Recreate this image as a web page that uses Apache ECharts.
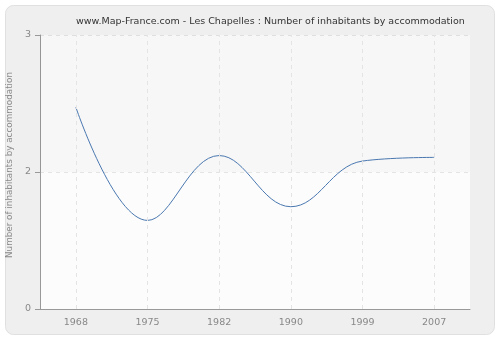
<!DOCTYPE html>
<html><head><meta charset="utf-8">
<script src="https://cdn.jsdelivr.net/npm/echarts@6/dist/echarts.min.js"></script>
<style>html,body{margin:0;padding:0;background:#fff}#c{width:500px;height:340px}</style>
</head><body><div id="c"></div>
<script>
var years = ['1968','1975','1982','1990','1999','2007'];
var values = [2.21, 0.97, 1.68, 1.12, 1.62, 1.66];
var yTicks = [0, 1.5, 3];
var title = 'www.Map-France.com - Les Chapelles : Number of inhabitants by accommodation';
var yName = 'Number of inhabitants by accommodation';
var FONT = 'DejaVu Sans, Verdana, sans-serif';

var chart = echarts.init(document.getElementById('c'), null, {renderer:'canvas'});
chart.setOption({
  animation:false,
  backgroundColor:'#ffffff',
  graphic:[{type:'rect', z:-10, shape:{x:5.5,y:5.5,width:489,height:329,r:8},
    style:{fill:'#efefef', stroke:'#e0e0e0', lineWidth:1}}],
  title:{text:title, left:71, top:12, textStyle:{fontFamily:FONT, fontSize:9.5, fontWeight:'normal', color:'#333'}},
  grid:{left:40, right:30, top:35, bottom:31, show:true, backgroundColor:'#fcfcfc', borderWidth:0, outerBoundsMode:'none', containLabel:false},
  xAxis:{type:'category', data:years, boundaryGap:true,
    axisLine:{lineStyle:{color:'#999'}},
    axisTick:{alignWithLabel:true, length:5, lineStyle:{color:'#999'}},
    axisLabel:{color:'#888', fontFamily:FONT, fontSize:9.5, margin:9},
    splitLine:{show:false}},
  yAxis:{type:'value', min:yTicks[0], max:yTicks[yTicks.length-1], interval:yTicks[1]-yTicks[0],
    name:yName, nameLocation:'middle', nameGap:19, nameRotate:90,
    nameTextStyle:{color:'#888', fontFamily:FONT, fontSize:8.8, padding:[0,0,0,14]},
    axisLine:{show:true, lineStyle:{color:'#999'}},
    axisTick:{show:true, length:5, lineStyle:{color:'#999'}},
    axisLabel:{color:'#888', fontFamily:FONT, fontSize:9.5, margin:9,
      formatter:function(v){return String(Math.round(v));}},
    splitLine:{show:true, lineStyle:{color:'#e4e4e4', type:[4,4]}}},
  series:[{type:'line', data:values, smooth:0.4, symbol:'none',
    lineStyle:{color:'#4a78b0', width:1},
    markLine:{silent:true, symbol:'none', label:{show:false},
      lineStyle:{color:'#e4e4e4', type:[4,4], width:1},
      data:years.map(function(y){return {xAxis:y};})},
    markArea:{silent:true, itemStyle:{color:'rgba(0,0,0,0.018)'}, data:[[{yAxis:1.5},{yAxis:3}]]}}]
});
</script></body></html>
